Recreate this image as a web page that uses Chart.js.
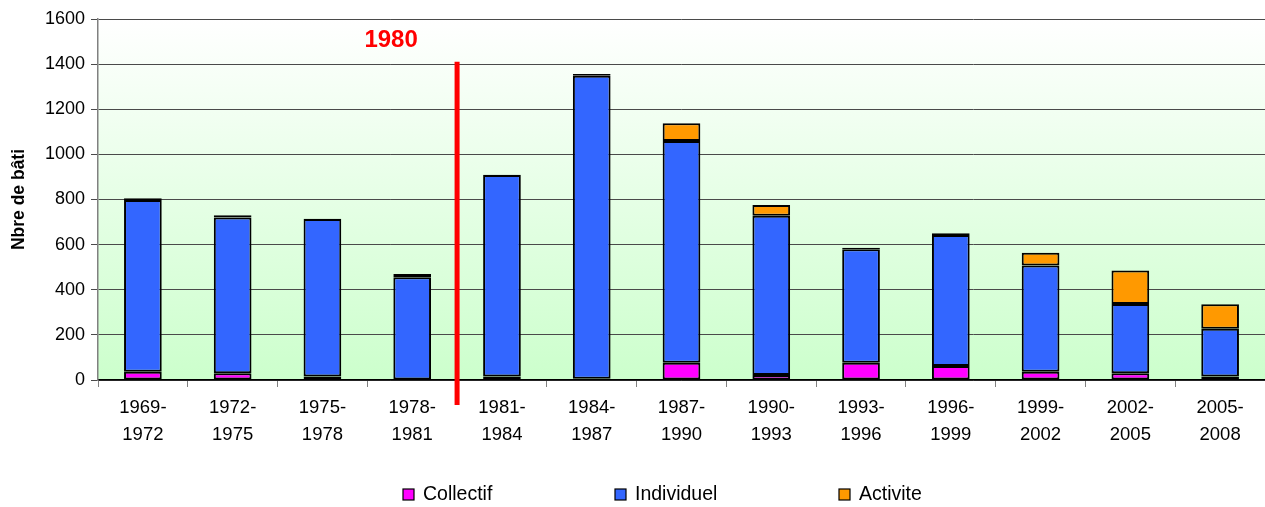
<!DOCTYPE html>
<html>
<head>
<meta charset="utf-8">
<script src="https://cdn.jsdelivr.net/npm/chart.js@4/dist/chart.umd.min.js"></script>
<style>
html,body{margin:0;padding:0;background:#fff;}
#wrap{width:1265px;height:507px;position:relative;}
</style>
</head>
<body>
<div id="wrap"><canvas id="c"></canvas></div>
<script>
const categories = [['1969-','1972'],['1972-','1975'],['1975-','1978'],['1978-','1981'],['1981-','1984'],['1984-','1987'],['1987-','1990'],['1990-','1993'],['1993-','1996'],['1996-','1999'],['1999-','2002'],['2002-','2005'],['2005-','2008']];
const collectif  = [37, 30, 15, 2, 15, 6, 77, 22, 77, 62, 37, 30, 15];
const individuel = [761, 690, 699, 453, 894, 1342, 982, 706, 502, 581, 470, 307, 212];
const activite   = [8, 10, 1, 15, 1, 8, 79, 48, 7, 7, 57, 148, 109];
const yTicks = [0, 200, 400, 600, 800, 1000, 1200, 1400, 1600];
const seriesNames = ['Collectif', 'Individuel', 'Activite'];
const seriesColors = ['#ff00ff', '#3366ff', '#ff9900'];
const markerLabel = '1980';
const markerAfterIndex = 3;   // line drawn between categories 3 and 4
const markerTopValue = 1410;

const FONT = 'Liberation Sans, Arial, sans-serif';

const bgPlugin = {
  id: 'bg',
  beforeDraw(chart) {
    const {ctx, chartArea: a} = chart;
    const g = ctx.createLinearGradient(0, a.top, 0, a.bottom);
    g.addColorStop(0, '#ffffff');
    g.addColorStop(1, '#ccffcc');
    ctx.save();
    ctx.fillStyle = g;
    ctx.fillRect(a.left, a.top, a.right - a.left, a.bottom - a.top);
    ctx.restore();
  }
};

const markerPlugin = {
  id: 'marker',
  afterDatasetsDraw(chart) {
    const {ctx, chartArea: a, scales} = chart;
    const x = (scales.x.getPixelForValue(markerAfterIndex) + scales.x.getPixelForValue(markerAfterIndex + 1)) / 2;
    const yTop = scales.y.getPixelForValue(markerTopValue);
    ctx.save();
    ctx.strokeStyle = '#ff0000';
    ctx.lineWidth = 5;
    ctx.beginPath();
    ctx.moveTo(x, yTop);
    ctx.lineTo(x, a.bottom + 25);
    ctx.stroke();
    ctx.fillStyle = '#ff0000';
    ctx.font = 'bold 24px ' + FONT;
    ctx.textAlign = 'center';
    ctx.textBaseline = 'alphabetic';
    ctx.fillText(markerLabel, x - 66, a.top + 28);
    ctx.restore();
  }
};

// legend drawn manually so the wide horizontal spacing does not consume vertical space
const legendPlugin = {
  id: 'wideLegend',
  afterDraw(chart) {
    const {ctx} = chart;
    const lefts = [403, 615, 839];
    const y = 494;
    ctx.save();
    ctx.font = '19.5px ' + FONT;
    ctx.textBaseline = 'middle';
    ctx.textAlign = 'left';
    chart.data.datasets.forEach((ds, i) => {
      ctx.fillStyle = ds.backgroundColor;
      ctx.fillRect(lefts[i], y - 5, 11, 11);
      ctx.strokeStyle = '#000';
      ctx.lineWidth = 1.2;
      ctx.strokeRect(lefts[i], y - 5, 11, 11);
      ctx.fillStyle = '#000';
      ctx.fillText(ds.label, lefts[i] + 20, y + 1);
    });
    ctx.restore();
  }
};

const common = {borderColor: '#000000', borderWidth: 2, borderSkipped: false, barPercentage: 0.84, categoryPercentage: 0.5};

new Chart(document.getElementById('c'), {
  type: 'bar',
  data: {
    labels: categories,
    datasets: seriesNames.map((n, i) => Object.assign({
      label: n,
      data: [collectif, individuel, activite][i],
      backgroundColor: seriesColors[i]
    }, common))
  },
  options: {
    responsive: true,
    maintainAspectRatio: false,
    animation: false,
    layout: {padding: {top: 19, right: 0, left: 0, bottom: 0}},
    plugins: {
      legend: {display: false},
      tooltip: {enabled: false}
    },
    scales: {
      x: {
        stacked: true,
        afterFit(axis) { axis.height = 127; },
        grid: {display: true, drawOnChartArea: false, drawTicks: true, tickLength: 7, color: '#808080', offset: true},
        border: {display: true, color: '#000', width: 1.5},
        ticks: {font: {family: FONT, size: 18.5, lineHeight: 1.43}, color: '#000', maxRotation: 0, autoSkip: false, padding: 8}
      },
      y: {
        stacked: true,
        min: 0,
        max: 1600,
        afterFit(axis) { axis.width = 98; },
        afterBuildTicks(axis) { axis.ticks = yTicks.map(v => ({value: v})); },
        grid: {color: '#4a4a4a', lineWidth: 1, tickLength: 7},
        border: {display: true, color: '#808080', width: 1.5},
        ticks: {font: {family: FONT, size: 18}, color: '#000', padding: 6, callback: v => String(v)},
        title: {display: true, text: 'Nbre de bâti', font: {family: FONT, size: 17.5, weight: 'bold'}, color: '#000', padding: {top: 9, bottom: 6}}
      }
    }
  },
  plugins: [bgPlugin, markerPlugin, legendPlugin]
});
</script>
</body>
</html>
